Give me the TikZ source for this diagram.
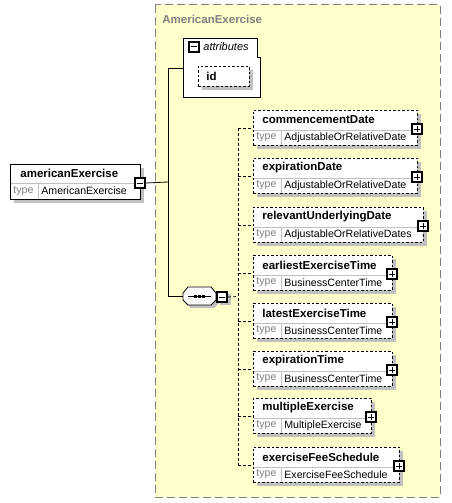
\documentclass[tikz,border=0pt]{standalone}
\usepackage{fontspec}
\setmainfont{Liberation Sans}
\definecolor{typebg}{HTML}{FFFFCC}
\definecolor{shade}{HTML}{C0C0C0}
\definecolor{greytxt}{HTML}{808080}
\tikzset{
  elbox/.style={draw, fill=white, inner sep=0pt, minimum height=35, anchor=north west},
  optbox/.style={elbox, dash pattern=on 2.5pt off 2pt},
  shadow/.style={fill=shade},
  markbox/.style={draw, fill=white, line width=1.6pt, minimum size=10, inner sep=0pt},
  ename/.style={anchor=west, inner sep=0pt, font=\fontsize{11.5}{11.5}\selectfont\bfseries},
  etype/.style={anchor=west, inner sep=0pt, font=\fontsize{10.6}{10.6}\selectfont},
  tlabel/.style={etype, text=greytxt},
  sep/.style={draw=shade, line width=0.8pt},
  link/.style={dash pattern=on 3pt off 2pt}
}
% minus and plus signs inside a mark box
\newcommand\minusin[1]{\draw[line width=1pt] ([xshift=2.9]#1.west) -- ([xshift=-2.9]#1.east);}
\newcommand\plusin[1]{\minusin{#1}\draw[line width=1pt] ([yshift=-2.9]#1.north) -- ([yshift=2.9]#1.south);}
% child element: name, top, right, label, type
\newcommand\childel[5]{%
  \fill[shadow] (257,#2+4) rectangle (#3+4,#2+39);
  \node[optbox, minimum width=#3-253] (#1) at (253,#2) {};
  \draw[sep] (253.5,#2+20) -- (#3-0.5,#2+20) (281,#2+20) -- (281,#2+34.5);
  \node[ename] at (262,#2+10) {#4};
  \node[tlabel] at (256,#2+27.5) {type};
  \node[etype] at (284,#2+27.5) {#5};
  \node[markbox] (#1p) at (#3,#2+19) {};
  \plusin{#1p}
  \draw[link] (#1.west -| spine) -- (#1.west);
}
\begin{document}
\begin{tikzpicture}[x=1pt,y=-1pt,line width=0.8pt]
\useasboundingbox (0,0) rectangle (451,503);
% complex type
\draw[fill=typebg, draw=greytxt, line width=1pt, dash pattern=on 8pt off 4pt] (155,5) rectangle (440,497);
\node[ename, text=greytxt] (typename) at (162,19) {AmericanExercise};
% attributes
\draw[fill=white] (183,38) -- (257,38) -- (257,57) -- (260,57) -- (260,97) -- (183,97) -- cycle;
\node[markbox] (attrm) at (194,47) {};
\minusin{attrm}
\node[anchor=west, inner sep=0pt, font=\fontsize{11}{11}\selectfont\itshape] (attrlbl) at (203,47) {attributes};
\fill[shadow] (202,70) rectangle (253,90);
\node[optbox, minimum width=51, minimum height=20] (id) at (198,66) {};
\node[ename] (idlbl) at (206,76) {id};
\coordinate (attrIn) at (183,68);
% root element
\fill[shadow] (14,168) rectangle (144,203);
\node[elbox, minimum width=130] (amEx) at (10,164) {};
\draw[sep] (10.5,183) -- (139.5,183) (38,183) -- (38,198.5);
\node[ename] (amExlbl) at (20,173) {americanExercise};
\node[tlabel] (amExtl) at (13,191) {type};
\node[etype] (amExty) at (41,191) {AmericanExercise};
\node[markbox] (amExm) at (140,183) {};
\minusin{amExm}
% sequence
\fill[shadow, shift={(3,3)}] (183,293) -- (188,287) -- (211,287) -- (216,293) -- (216,300) -- (211,305) -- (188,305) -- (183,300) -- cycle;
\fill[shadow] (220,294) rectangle (231,305);
\draw[fill=white] (183,293) -- (188,287) -- (211,287) -- (216,293) -- (216,300) -- (211,305) -- (188,305) -- (183,300) -- cycle;
\node[inner sep=0pt, minimum width=33, minimum height=18] (seq) at (199.5,296.5) {};
\draw (188,296.5) -- (211,296.5);
\foreach \dx in {195,199,203} \fill (\dx-1.5,295) rectangle (\dx+1.5,298);
\node[markbox] (seqm) at (222,297) {};
\minusin{seqm}
% connectors
\coordinate (trunk) at (168,182);
\coordinate (spine) at (238,296.5);
\draw (amExm.east) -- (trunk);
\draw (attrIn) -- (attrIn -| trunk) -- (seq.west -| trunk) -- (seq.west);
\draw[link] (seqm.east) -- (spine);
% children
\childel{cd}{110}{417}{commencementDate}{AdjustableOrRelativeDate}
\childel{ed}{158}{417}{expirationDate}{AdjustableOrRelativeDate}
\childel{rud}{207}{423}{relevantUnderlyingDate}{AdjustableOrRelativeDates}
\childel{eet}{255}{392}{earliestExerciseTime}{BusinessCenterTime}
\childel{let}{303}{392}{latestExerciseTime}{BusinessCenterTime}
\childel{et}{351}{392}{expirationTime}{BusinessCenterTime}
\childel{me}{398}{371}{multipleExercise}{MultipleExercise}
\childel{efs}{447}{399}{exerciseFeeSchedule}{ExerciseFeeSchedule}
\draw[link] (cd.west -| spine) -- (efs.west -| spine);
\end{tikzpicture}
\end{document}
